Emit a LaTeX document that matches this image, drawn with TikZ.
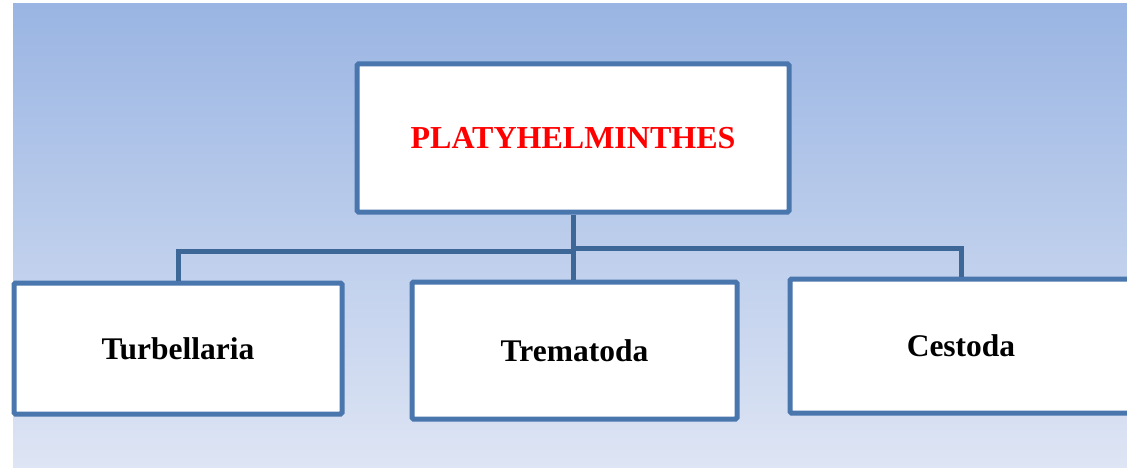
\documentclass[tikz,border=0pt]{standalone}
\usepackage{fontspec}
\setmainfont{Liberation Serif}
\definecolor{bgtop}{HTML}{9AB5E3}
\definecolor{bgbot}{HTML}{DEE5F4}
\definecolor{boxline}{HTML}{4A76AE}
\definecolor{linkline}{HTML}{3D6797}
\definecolor{titlered}{HTML}{FF0000}
\tikzset{
  taxbox/.style={draw=boxline, line width=5pt, fill=white, rounded corners=1.5pt,
    inner sep=0pt, font=\bfseries\fontsize{31.5}{35}\selectfont},
  link/.style={draw=linkline, line width=5pt}
}
\begin{document}
\begin{tikzpicture}[x=1pt, y=-1pt]
  \useasboundingbox (0,0) rectangle (1127,468);
  \clip (0,0) rectangle (1127,468);
  % gradient backdrop
  \shade[top color=bgtop, bottom color=bgbot] (13,4) rectangle (1127,468);

  % phylum and classes
  \node[taxbox, minimum width=432pt, minimum height=148pt,
        text=titlered, font=\bfseries\fontsize{32}{36}\selectfont]
        (top) at (573,138) {PLATYHELMINTHES};
  \node[taxbox, minimum width=328pt, minimum height=131pt] (turb) at (178,348.5) {Turbellaria};
  \node[taxbox, minimum width=325pt, minimum height=137pt] (trem) at (574.5,350.5) {Trematoda};
  \node[taxbox, minimum width=342pt, minimum height=134pt] (cest) at (961,346) {Cestoda};

  % tree connectors
  \coordinate (jl) at (573,251);
  \coordinate (jr) at (573,248);
  \draw[link] (top.south) -- (trem.north -| top.south);
  \draw[link] (turb.north) |- (jl);
  \draw[link] (cest.north) |- (jr);
\end{tikzpicture}
\end{document}
